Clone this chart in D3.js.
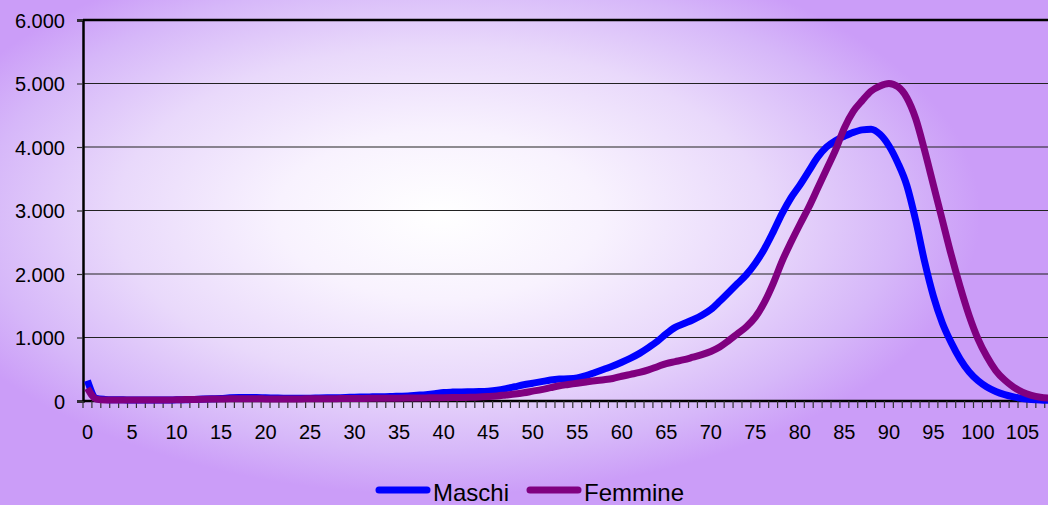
<!DOCTYPE html>
<html>
<head>
<meta charset="utf-8">
<script src="https://cdn.jsdelivr.net/npm/d3@7"></script>
<style>
  body { margin: 0; overflow: hidden; }
  text { font-family: "Liberation Sans", Arial, sans-serif; fill: #000; }
</style>
</head>
<body>
<script>
// ages on the category axis (0 .. 108)
var ages = d3.range(0, 109);

// tick labels shown under the axis
var ageLabels = d3.range(0, 106, 5);
var yTicks = [0, 1000, 2000, 3000, 4000, 5000, 6000];

// series values, one per age
var maschi = [320, 40, 25, 20, 18, 15, 15, 15, 15, 15,
  18, 20, 25, 30, 35, 40, 50, 55, 55, 55,
  50, 48, 45, 45, 45, 45, 48, 50, 52, 55,
  60, 62, 65, 68, 70, 75, 80, 90, 100, 115,
  135, 140, 142, 145, 148, 155, 170, 195, 225, 255,
  280, 305, 330, 345, 350, 365, 400, 450, 500, 550,
  610, 675, 750, 840, 940, 1060, 1160, 1220, 1280, 1350,
  1440, 1570, 1710, 1850, 1990, 2170, 2390, 2660, 2950, 3200,
  3400, 3620, 3840, 4000, 4100, 4170, 4230, 4270, 4280, 4200,
  4020, 3750, 3400, 2850, 2200, 1650, 1230, 920, 660, 460,
  320, 220, 150, 100, 65, 40, 25, 15, 10];

var femmine = [200, 30, 15, 15, 15, 15, 15, 15, 15, 15,
  20, 22, 25, 28, 30, 32, 35, 35, 35, 35,
  33, 32, 32, 32, 33, 34, 35, 36, 37, 38,
  40, 41, 42, 43, 44, 45, 46, 48, 49, 50,
  52, 54, 56, 58, 62, 70, 80, 95, 110, 130,
  155, 180, 210, 240, 260, 280, 300, 320, 335, 355,
  390, 420, 450, 490, 540, 590, 620, 650, 690, 730,
  780, 850, 950, 1060, 1170, 1320, 1550, 1850, 2200, 2500,
  2780, 3050, 3350, 3650, 3950, 4300, 4560, 4730, 4880, 4960,
  5000, 4950, 4780, 4450, 3950, 3400, 2850, 2300, 1800, 1350,
  980, 700, 480, 330, 220, 140, 90, 60, 45];

var W = 1048, H = 505;
var margin = {top: 20, left: 83, bottom: 104};
var step = 8.905;

var svg = d3.select("body").append("svg")
    .attr("width", W)
    .attr("height", H);

// background gradient, white in the middle, purple at the edges
var grad = svg.append("defs").append("radialGradient")
    .attr("id", "bg")
    .attr("gradientUnits", "userSpaceOnUse")
    .attr("cx", 0).attr("cy", 0).attr("r", 1)
    .attr("gradientTransform", "translate(440,215) scale(540,280)");
grad.append("stop").attr("offset", "0").attr("stop-color", "#ffffff");
grad.append("stop").attr("offset", "0.3").attr("stop-color", "#f8f2fe");
grad.append("stop").attr("offset", "0.6").attr("stop-color", "#e9d9fb");
grad.append("stop").attr("offset", "0.85").attr("stop-color", "#d6b7f9");
grad.append("stop").attr("offset", "1").attr("stop-color", "#cb9df8");

svg.append("rect")
    .attr("width", W).attr("height", H)
    .attr("fill", "url(#bg)");

// scales
var x = d3.scaleBand()
    .domain(ages)
    .range([margin.left, margin.left + ages.length * step]);
var y = d3.scaleLinear()
    .domain([0, 6000])
    .range([H - margin.bottom, margin.top]);

// gridlines
svg.append("g")
  .selectAll("line")
    .data(yTicks.slice(1))
  .enter().append("line")
    .attr("x1", margin.left).attr("x2", W)
    .attr("y1", function(d) { return y(d); })
    .attr("y2", function(d) { return y(d); })
    .attr("stroke", d => d == 6000 ? "#000" : "#222")
    .attr("stroke-width", d => d == 6000 ? 2.5 : 1.2);

// y axis
var yAxis = svg.append("g")
    .attr("transform", "translate(" + margin.left + ",0)")
    .call(d3.axisLeft(y)
      .tickValues(yTicks)
      .tickSize(6)
      .tickPadding(12)
      .tickFormat(function(d) { return d3.format(",")(d).replace(",", "."); }));
yAxis.select(".domain").attr("stroke", "#000").attr("stroke-width", 2.5);
yAxis.selectAll(".tick line").attr("stroke", "#333").attr("stroke-width", 1.2);
yAxis.selectAll("text")
    .style("font-size", "20px")
    .attr("dy", "0.36em")
    .attr("fill", "#000");

// x axis: small ticks between categories, labels every 5 years
var xAxis = svg.append("g")
    .attr("transform", "translate(0," + y(0) + ")");
xAxis.append("line")
    .attr("x1", margin.left).attr("x2", W)
    .attr("stroke", "#000").attr("stroke-width", 2.5);
xAxis.selectAll(".tk")
    .data(ages)
  .enter().append("line")
    .attr("class", "tk")
    .attr("x1", function(d) { return x(d); })
    .attr("x2", function(d) { return x(d); })
    .attr("y1", 0).attr("y2", 7)
    .attr("stroke", "#333").attr("stroke-width", 1.2);
xAxis.selectAll(".lbl")
    .data(ageLabels)
  .enter().append("text")
    .attr("class", "lbl")
    .attr("x", function(d) { return x(d) + x.bandwidth() / 2; })
    .attr("y", 38)
    .attr("text-anchor", "middle")
    .style("font-size", "20px")
    .text(function(d) { return d; });

// the two lines
var line = d3.line()
    .x(function(d, i) { return x(ages[i]) + x.bandwidth() / 2; })
    .y(function(d) { return y(d); })
    .curve(d3.curveMonotoneX);

var series = [
  {name: "Maschi", values: maschi, color: "#0000ff"},
  {name: "Femmine", values: femmine, color: "#800080"}
];

svg.selectAll(".serie")
    .data(series)
  .enter().append("path")
    .attr("class", "serie")
    .attr("d", function(d) { return line(d.values); })
    .attr("fill", "none")
    .attr("stroke", function(d) { return d.color; })
    .attr("stroke-width", 7)
    .attr("stroke-linejoin", "round");

// legend
var legX = [376, 527];
var leg = svg.selectAll(".leg")
    .data(series)
  .enter().append("g")
    .attr("class", "leg")
    .attr("transform", function(d, i) { return "translate(" + legX[i] + ",490)"; });
leg.append("line")
    .attr("x1", 3).attr("x2", 51)
    .attr("stroke", function(d) { return d.color; })
    .attr("stroke-width", 7)
    .attr("stroke-linecap", "round");
leg.append("text")
    .attr("x", 57)
    .attr("y", 11)
    .style("font-size", "24px")
    .text(function(d) { return d.name; });
</script>
</body>
</html>
